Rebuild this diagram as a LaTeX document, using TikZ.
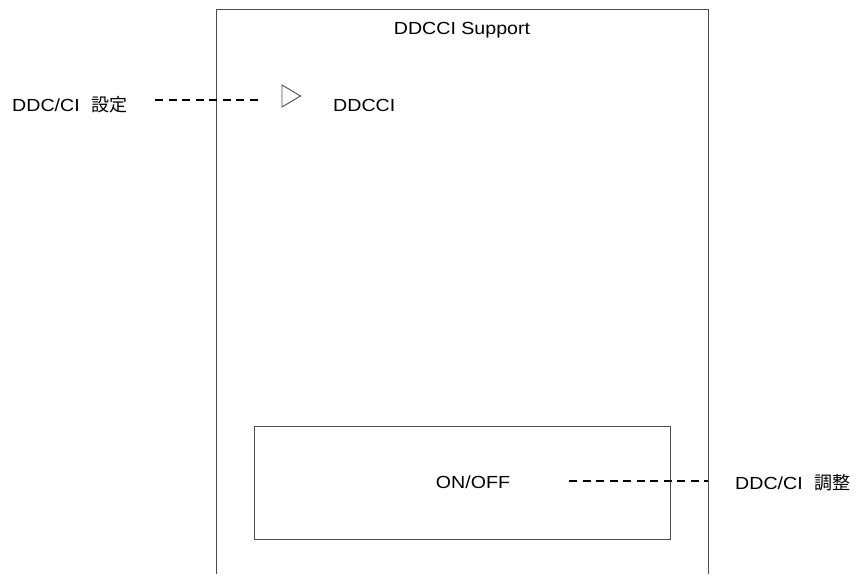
\documentclass[tikz,border=0pt]{standalone}
\usepackage{fontspec}
\setmainfont[FakeStretch=1.12]{Liberation Sans}
\newfontfamily\cjk[Scale=1.03]{Noto Sans CJK JP}
\usetikzlibrary{positioning}
\tikzset{
  lbl/.style={inner sep=0pt, font=\fontsize{17.5}{21}\selectfont},
  leader/.style={draw=black, line width=1.3pt, dash pattern=on 8pt off 5.5pt},
  frame/.style={draw=black!70, line width=0.9pt}
}
\begin{document}
\begin{tikzpicture}[x=1pt,y=-1pt]
  \useasboundingbox (0,0) rectangle (859,574);
  % outer panel, open at the bottom
  \draw[frame] (216.5,574) -- (216.5,9.5) -- (708,9.5) -- (708,574);
  \node[lbl, anchor=base] (title) at (462,34.5) {DDCCI Support};
  % DDCCI item with its marker
  \draw[frame] (282,85) -- (300.5,96) -- (282,107) -- cycle;
  \coordinate (mark) at (282,96);
  \node[lbl, anchor=base west] (ddcci) at (333,111) {DDCCI};
  \node[lbl, anchor=base west] (setlbl) at (12,111) {DDC/CI {\cjk\hspace{6pt}設定}};
  \draw[leader] ([xshift=28pt,yshift=11pt]setlbl.base east) -- ([xshift=-19pt,yshift=-4pt]mark);
  % ON/OFF box
  \node[frame, minimum width=416, minimum height=113] (onoff) at (462,482.5) {};
  \node[lbl, anchor=base] (onofftxt) at (473,488) {ON/OFF};
  \node[lbl, anchor=base west] (adjlbl) at (735,489) {DDC/CI {\cjk\hspace{6pt}調整}};
  \draw[leader] ([xshift=59pt,yshift=7pt]onofftxt.base east) -- ([xshift=-27pt,yshift=8pt]adjlbl.base west);
\end{tikzpicture}
\end{document}
